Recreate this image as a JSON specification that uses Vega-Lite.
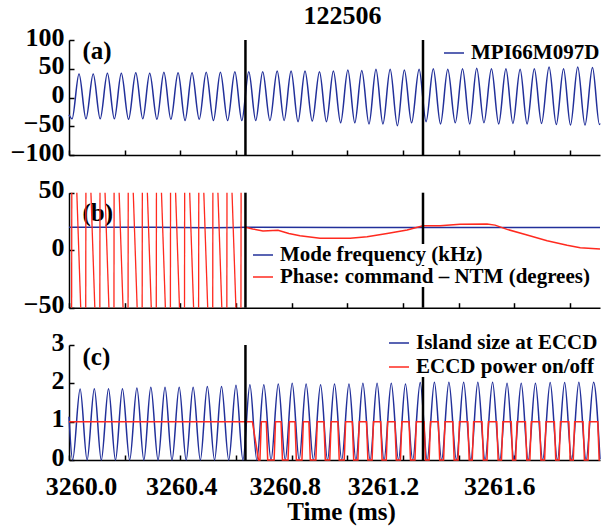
{
  "$schema": "https://vega.github.io/schema/vega-lite/v6.json",
  "width": 531,
  "height": 420,
  "autosize": "none",
  "padding": {"left": 69, "top": 40, "right": 2, "bottom": 68},
  "title": {"text": "122506", "font": "Liberation Serif", "fontWeight": "bold", "fontSize": 26, "color": "black", "anchor": "middle", "frame": "group", "dx": 8, "offset": -5},
  "config": {
    "view": {"stroke": null},
    "font": "Liberation Serif",
    "axis": {
      "grid": false, "domainColor": "black", "domainWidth": 1.5,
      "tickColor": "black", "tickWidth": 1.5, "tickSize": -5,
      "labelFont": "Liberation Serif", "labelFontWeight": "bold", "labelFontSize": 26, "labelColor": "black",
      "labelPadding": 10, "labelFlush": false, "labelOverlap": false,
      "titleFont": "Liberation Serif", "titleFontWeight": "bold", "titleFontSize": 25, "titleColor": "black"
    },
    "axisY": {"labelOffset": -3},
    "legend": {
      "labelFont": "Liberation Serif", "labelFontWeight": "bold", "labelFontSize": 21, "labelColor": "black", "labelLimit": 0,
      "symbolType": "stroke", "symbolSize": 400, "symbolStrokeWidth": 1.5, "labelOffset": 6,
      "fillColor": "white", "padding": 0, "rowPadding": 2, "orient": "none"
    }
  },
  "datasets": {
    "vl": [{"t": 3260.634}, {"t": 3261.272}],
    "pa": [
      {"t":3260.000,"v":-30},{"t":3260.011,"v":-37},{"t":3260.036,"v":41},{"t":3260.061,"v":-37},{"t":3260.087,"v":41},{"t":3260.112,"v":-37},{"t":3260.138,"v":42},{"t":3260.163,"v":-37},{"t":3260.188,"v":42},{"t":3260.214,"v":-38},{"t":3260.240,"v":43},{"t":3260.265,"v":-37},{"t":3260.290,"v":42},{"t":3260.316,"v":-38},{"t":3260.341,"v":44},{"t":3260.366,"v":-38},{"t":3260.392,"v":43},{"t":3260.417,"v":-40},{"t":3260.442,"v":43},{"t":3260.468,"v":-38},{"t":3260.493,"v":44},{"t":3260.519,"v":-40},{"t":3260.544,"v":44},{"t":3260.570,"v":-40},{"t":3260.596,"v":45},{"t":3260.621,"v":-40},{"t":3260.646,"v":45},{"t":3260.671,"v":-40},{"t":3260.696,"v":45},{"t":3260.722,"v":-40},{"t":3260.748,"v":46},{"t":3260.773,"v":-40},{"t":3260.798,"v":46},{"t":3260.823,"v":-42},{"t":3260.848,"v":46},{"t":3260.874,"v":-41},{"t":3260.900,"v":45},{"t":3260.925,"v":-42},{"t":3260.950,"v":46},{"t":3260.976,"v":-44},{"t":3261.002,"v":48},{"t":3261.027,"v":-44},{"t":3261.052,"v":47},{"t":3261.078,"v":-46},{"t":3261.103,"v":49},{"t":3261.128,"v":-46},{"t":3261.154,"v":49},{"t":3261.180,"v":-49},{"t":3261.205,"v":48},{"t":3261.231,"v":-44},{"t":3261.258,"v":49},{"t":3261.283,"v":-42},{"t":3261.309,"v":50},{"t":3261.335,"v":-46},{"t":3261.361,"v":49},{"t":3261.388,"v":-44},{"t":3261.414,"v":50},{"t":3261.440,"v":-46},{"t":3261.465,"v":51},{"t":3261.491,"v":-44},{"t":3261.518,"v":50},{"t":3261.544,"v":-46},{"t":3261.570,"v":50},{"t":3261.595,"v":-45},{"t":3261.621,"v":49},{"t":3261.646,"v":-46},{"t":3261.672,"v":50},{"t":3261.698,"v":-45},{"t":3261.725,"v":53},{"t":3261.751,"v":-47},{"t":3261.777,"v":50},{"t":3261.802,"v":-48},{"t":3261.828,"v":53},{"t":3261.854,"v":-48},{"t":3261.881,"v":52},{"t":3261.906,"v":-47},{"t":3261.908,"v":-45}
    ],
    "pbf": [
      {"t":3260.000,"v":20},{"t":3260.300,"v":20},{"t":3260.500,"v":19.6},{"t":3260.600,"v":19.8},{"t":3260.634,"v":20},{"t":3261.000,"v":19.8},{"t":3261.500,"v":19.8},{"t":3261.908,"v":19.8}
    ],
    "pbp": [
      {"t":3260.634,"v":20},{"t":3260.660,"v":18.5},{"t":3260.697,"v":16.7},{"t":3260.751,"v":17.3},{"t":3260.790,"v":14.5},{"t":3260.830,"v":12.5},{"t":3260.902,"v":10.3},{"t":3261.010,"v":10.3},{"t":3261.071,"v":11.7},{"t":3261.143,"v":14.6},{"t":3261.215,"v":17.5},{"t":3261.272,"v":21.3},{"t":3261.333,"v":21.3},{"t":3261.405,"v":22.5},{"t":3261.502,"v":22.8},{"t":3261.531,"v":21.8},{"t":3261.574,"v":18.1},{"t":3261.646,"v":13.2},{"t":3261.718,"v":8.3},{"t":3261.790,"v":4.3},{"t":3261.837,"v":2.2},{"t":3261.908,"v":1.0}
    ],
    "pbw": [
      {"t1":3260.0094,"p1":-50,"t2":3260.0100,"p2":50},{"t1":3260.0281,"p1":50,"t2":3260.0421,"p2":-50},
      {"t1":3260.0601,"p1":-50,"t2":3260.0607,"p2":50},{"t1":3260.0788,"p1":50,"t2":3260.0928,"p2":-50},
      {"t1":3260.1108,"p1":-50,"t2":3260.1114,"p2":50},{"t1":3260.1295,"p1":50,"t2":3260.1435,"p2":-50},
      {"t1":3260.1615,"p1":-50,"t2":3260.1621,"p2":50},{"t1":3260.1802,"p1":50,"t2":3260.1942,"p2":-50},
      {"t1":3260.2122,"p1":-50,"t2":3260.2128,"p2":50},{"t1":3260.2309,"p1":50,"t2":3260.2449,"p2":-50},
      {"t1":3260.2629,"p1":-50,"t2":3260.2635,"p2":50},{"t1":3260.2816,"p1":50,"t2":3260.2956,"p2":-50},
      {"t1":3260.3136,"p1":-50,"t2":3260.3142,"p2":50},{"t1":3260.3323,"p1":50,"t2":3260.3463,"p2":-50},
      {"t1":3260.3643,"p1":-50,"t2":3260.3649,"p2":50},{"t1":3260.3830,"p1":50,"t2":3260.3970,"p2":-50},
      {"t1":3260.4150,"p1":-50,"t2":3260.4156,"p2":50},{"t1":3260.4337,"p1":50,"t2":3260.4477,"p2":-50},
      {"t1":3260.4657,"p1":-50,"t2":3260.4663,"p2":50},{"t1":3260.4844,"p1":50,"t2":3260.4984,"p2":-50},
      {"t1":3260.5164,"p1":-50,"t2":3260.5170,"p2":50},{"t1":3260.5351,"p1":50,"t2":3260.5491,"p2":-50},
      {"t1":3260.5671,"p1":-50,"t2":3260.5677,"p2":50},{"t1":3260.5858,"p1":50,"t2":3260.5998,"p2":-50},
      {"t1":3260.6178,"p1":-50,"t2":3260.6184,"p2":50}
    ],
    "pc": [
      {"t":3260.000,"v":1.13},{"t":3260.013,"v":0},{"t":3260.040,"v":1.85},{"t":3260.065,"v":0},{"t":3260.091,"v":1.86},{"t":3260.116,"v":0},{"t":3260.142,"v":1.86},{"t":3260.167,"v":0},{"t":3260.192,"v":1.86},{"t":3260.218,"v":0},{"t":3260.244,"v":1.88},{"t":3260.269,"v":0},{"t":3260.294,"v":1.9},{"t":3260.320,"v":0},{"t":3260.345,"v":1.9},{"t":3260.370,"v":0},{"t":3260.396,"v":1.9},{"t":3260.421,"v":0},{"t":3260.446,"v":1.9},{"t":3260.472,"v":0},{"t":3260.497,"v":1.92},{"t":3260.523,"v":0},{"t":3260.548,"v":1.92},{"t":3260.574,"v":0},{"t":3260.600,"v":1.95},{"t":3260.625,"v":0},{"t":3260.650,"v":1.96},{"t":3260.675,"v":0},{"t":3260.700,"v":1.96},{"t":3260.726,"v":0},{"t":3260.752,"v":1.98},{"t":3260.777,"v":0},{"t":3260.802,"v":2.0},{"t":3260.827,"v":0},{"t":3260.852,"v":1.98},{"t":3260.878,"v":0},{"t":3260.904,"v":1.96},{"t":3260.929,"v":0},{"t":3260.954,"v":1.98},{"t":3260.980,"v":0},{"t":3261.006,"v":1.98},{"t":3261.031,"v":0},{"t":3261.056,"v":2.0},{"t":3261.082,"v":0},{"t":3261.107,"v":2.0},{"t":3261.132,"v":0},{"t":3261.158,"v":2.0},{"t":3261.184,"v":0},{"t":3261.209,"v":1.98},{"t":3261.235,"v":0},{"t":3261.262,"v":2.02},{"t":3261.287,"v":0},{"t":3261.313,"v":2.03},{"t":3261.339,"v":0},{"t":3261.365,"v":2.03},{"t":3261.392,"v":0},{"t":3261.418,"v":2.03},{"t":3261.444,"v":0},{"t":3261.469,"v":2.03},{"t":3261.495,"v":0},{"t":3261.522,"v":2.03},{"t":3261.548,"v":0},{"t":3261.574,"v":2.0},{"t":3261.599,"v":0},{"t":3261.625,"v":2.0},{"t":3261.650,"v":0},{"t":3261.676,"v":2.0},{"t":3261.702,"v":0},{"t":3261.729,"v":2.02},{"t":3261.755,"v":0},{"t":3261.781,"v":2.02},{"t":3261.806,"v":0},{"t":3261.832,"v":2.03},{"t":3261.858,"v":0},{"t":3261.885,"v":2.03},{"t":3261.908,"v":0.02}
    ],
    "pcr": [
      {"t":3260.000,"v":1},{"t":3260.659,"v":1},{"t":3260.681,"v":0},
      {"t":3260.686,"v":0},{"t":3260.691,"v":1},{"t":3260.709,"v":1},{"t":3260.714,"v":0},
      {"t":3260.737,"v":0},{"t":3260.742,"v":1},{"t":3260.762,"v":1},{"t":3260.767,"v":0},
      {"t":3260.787,"v":0},{"t":3260.792,"v":1},{"t":3260.812,"v":1},{"t":3260.817,"v":0},
      {"t":3260.837,"v":0},{"t":3260.842,"v":1},{"t":3260.862,"v":1},{"t":3260.867,"v":0},
      {"t":3260.887,"v":0},{"t":3260.892,"v":1},{"t":3260.916,"v":1},{"t":3260.921,"v":0},
      {"t":3260.937,"v":0},{"t":3260.942,"v":1},{"t":3260.966,"v":1},{"t":3260.971,"v":0},
      {"t":3260.989,"v":0},{"t":3260.994,"v":1},{"t":3261.018,"v":1},{"t":3261.023,"v":0},
      {"t":3261.038,"v":0},{"t":3261.043,"v":1},{"t":3261.069,"v":1},{"t":3261.074,"v":0},
      {"t":3261.089,"v":0},{"t":3261.094,"v":1},{"t":3261.120,"v":1},{"t":3261.125,"v":0},
      {"t":3261.140,"v":0},{"t":3261.145,"v":1},{"t":3261.171,"v":1},{"t":3261.176,"v":0},
      {"t":3261.191,"v":0},{"t":3261.196,"v":1},{"t":3261.222,"v":1},{"t":3261.227,"v":0},
      {"t":3261.243,"v":0},{"t":3261.248,"v":1},{"t":3261.276,"v":1},{"t":3261.281,"v":0},
      {"t":3261.294,"v":0},{"t":3261.299,"v":1},{"t":3261.327,"v":1},{"t":3261.332,"v":0},
      {"t":3261.346,"v":0},{"t":3261.351,"v":1},{"t":3261.379,"v":1},{"t":3261.384,"v":0},
      {"t":3261.398,"v":0},{"t":3261.403,"v":1},{"t":3261.433,"v":1},{"t":3261.438,"v":0},
      {"t":3261.449,"v":0},{"t":3261.454,"v":1},{"t":3261.484,"v":1},{"t":3261.489,"v":0},
      {"t":3261.502,"v":0},{"t":3261.507,"v":1},{"t":3261.537,"v":1},{"t":3261.542,"v":0},
      {"t":3261.554,"v":0},{"t":3261.559,"v":1},{"t":3261.589,"v":1},{"t":3261.594,"v":0},
      {"t":3261.605,"v":0},{"t":3261.610,"v":1},{"t":3261.640,"v":1},{"t":3261.645,"v":0},
      {"t":3261.656,"v":0},{"t":3261.661,"v":1},{"t":3261.691,"v":1},{"t":3261.696,"v":0},
      {"t":3261.709,"v":0},{"t":3261.714,"v":1},{"t":3261.744,"v":1},{"t":3261.749,"v":0},
      {"t":3261.761,"v":0},{"t":3261.766,"v":1},{"t":3261.796,"v":1},{"t":3261.801,"v":0},
      {"t":3261.812,"v":0},{"t":3261.817,"v":1},{"t":3261.847,"v":1},{"t":3261.852,"v":0},
      {"t":3261.865,"v":0},{"t":3261.870,"v":1},{"t":3261.900,"v":1},{"t":3261.905,"v":0},
      {"t":3261.908,"v":0}
    ]
  },
  "layer": [
    {
      "layer": [
        {
          "data": {"name": "pa"},
          "mark": {"type": "line", "interpolate": "monotone", "strokeWidth": 1.5},
          "encoding": {
            "x": {"field": "t", "type": "quantitative", "scale": {"domain": [3260, 3261.908], "nice": false, "zero": false},
                  "axis": {"orient": "bottom", "offset": -305, "values": [3260, 3260.2, 3260.4, 3260.6, 3260.8, 3261, 3261.2, 3261.4, 3261.6, 3261.8], "labels": false, "title": null}},
            "y": {"field": "v", "type": "quantitative", "scale": {"domain": [-100, 100], "range": [115, 0], "nice": false, "zero": false},
                  "axis": {"orient": "left", "values": [-100, -50, 0, 50, 100], "format": "d", "title": "(a)", "titleAngle": 0, "titleX": 13, "titleY": 18, "titleAlign": "left", "titleBaseline": "alphabetic"}},
            "color": {"datum": "MPI66M097D", "type": "nominal", "scale": {"domain": ["MPI66M097D"], "range": ["#22309a"]},
                      "legend": {"title": null, "legendX": 374, "legendY": 2}}
          }
        },
        {
          "data": {"name": "vl"},
          "mark": {"type": "rule", "color": "black", "strokeWidth": 2.5},
          "encoding": {"x": {"field": "t", "type": "quantitative"}, "y": {"datum": -100, "type": "quantitative"}, "y2": {"datum": 100}}
        }
      ]
    },
    {
      "layer": [
        {
          "data": {"name": "pbf"},
          "mark": {"type": "line", "strokeWidth": 1.5},
          "encoding": {
            "x": {"field": "t", "type": "quantitative", "scale": {"domain": [3260, 3261.908], "nice": false, "zero": false},
                  "axis": {"orient": "bottom", "offset": -152.3, "values": [3260, 3260.2, 3260.4, 3260.6, 3260.8, 3261, 3261.2, 3261.4, 3261.6, 3261.8], "labels": false, "title": null}},
            "y": {"field": "v", "type": "quantitative", "scale": {"domain": [-50, 50], "range": [267.7, 152.7], "nice": false, "zero": false},
                  "axis": {"orient": "left", "values": [-50, 0, 50], "format": "d", "title": "(b)", "titleAngle": 0, "titleX": 13, "titleY": 180, "titleAlign": "left", "titleBaseline": "alphabetic"}},
            "color": {"datum": "Mode frequency (kHz)", "type": "nominal",
                      "scale": {"domain": ["Mode frequency (kHz)"], "range": ["#22309a"]},
                      "legend": {"title": null, "legendX": 183, "legendY": 204}}
          }
        },
        {
          "data": {"name": "pbp"},
          "mark": {"type": "line", "strokeWidth": 1.5},
          "encoding": {
            "x": {"field": "t", "type": "quantitative"},
            "y": {"field": "v", "type": "quantitative"},
            "stroke": {"datum": "Phase: command – NTM (degrees)", "type": "nominal",
                       "scale": {"domain": ["Phase: command – NTM (degrees)"], "range": ["#ff2a1f"]},
                       "legend": {"title": null, "legendX": 183, "legendY": 226}}
          }
        },
        {
          "data": {"name": "pbw"},
          "mark": {"type": "rule", "color": "#ff2a1f", "strokeWidth": 1.3},
          "encoding": {
            "x": {"field": "t1", "type": "quantitative"}, "x2": {"field": "t2"},
            "y": {"field": "p1", "type": "quantitative"}, "y2": {"field": "p2"}
          }
        },
        {
          "data": {"name": "vl"},
          "mark": {"type": "rule", "color": "black", "strokeWidth": 2.5},
          "encoding": {"x": {"field": "t", "type": "quantitative"}, "y": {"datum": -50, "type": "quantitative"}, "y2": {"datum": 50}}
        }
      ]
    },
    {
      "layer": [
        {
          "data": {"name": "pc"},
          "mark": {"type": "line", "interpolate": "monotone", "strokeWidth": 1.5},
          "encoding": {
            "x": {"field": "t", "type": "quantitative", "scale": {"domain": [3260, 3261.908], "nice": false, "zero": false},
                  "axis": {"orient": "bottom", "values": [3260, 3260.2, 3260.4, 3260.6, 3260.8, 3261, 3261.2, 3261.4, 3261.6, 3261.8],
                           "labelExpr": "round(datum.value*10) % 4 == 0 ? format(datum.value, '.1f') : ''", "labelPadding": 18,
                           "labelOffset": {"condition": [
                             {"test": "datum.value < 3260.1", "value": 12},
                             {"test": "datum.value < 3260.5", "value": 1},
                             {"test": "datum.value < 3260.9", "value": -7},
                             {"test": "datum.value < 3261.3", "value": -20}
                           ], "value": -15},
                           "title": "Time (ms)", "titleX": 272, "titleY": 59, "titleAlign": "center", "titleBaseline": "alphabetic"}},
            "y": {"field": "v", "type": "quantitative", "scale": {"domain": [0, 3], "range": [420, 305], "nice": false, "zero": false},
                  "axis": {"orient": "left", "values": [0, 1, 2, 3], "format": "d", "title": "(c)", "titleAngle": 0, "titleX": 13, "titleY": 324, "titleAlign": "left", "titleBaseline": "alphabetic"}},
            "color": {"datum": "Island size at ECCD", "type": "nominal",
                      "scale": {"domain": ["Island size at ECCD", "ECCD power on/off"], "range": ["#22309a", "#ff2a1f"]},
                      "legend": {"title": null, "legendX": 319, "legendY": 292, "rowPadding": 3}}
          }
        },
        {
          "data": {"name": "pcr"},
          "mark": {"type": "line", "strokeWidth": 1.5},
          "encoding": {
            "x": {"field": "t", "type": "quantitative"},
            "y": {"field": "v", "type": "quantitative"},
            "color": {"datum": "ECCD power on/off", "type": "nominal"}
          }
        },
        {
          "data": {"name": "vl"},
          "mark": {"type": "rule", "color": "black", "strokeWidth": 2.5},
          "encoding": {"x": {"field": "t", "type": "quantitative"}, "y": {"datum": 0, "type": "quantitative"}, "y2": {"datum": 3}}
        }
      ]
    }
  ],
  "resolve": {"scale": {"x": "independent", "y": "independent", "color": "independent", "stroke": "independent"}}
}
